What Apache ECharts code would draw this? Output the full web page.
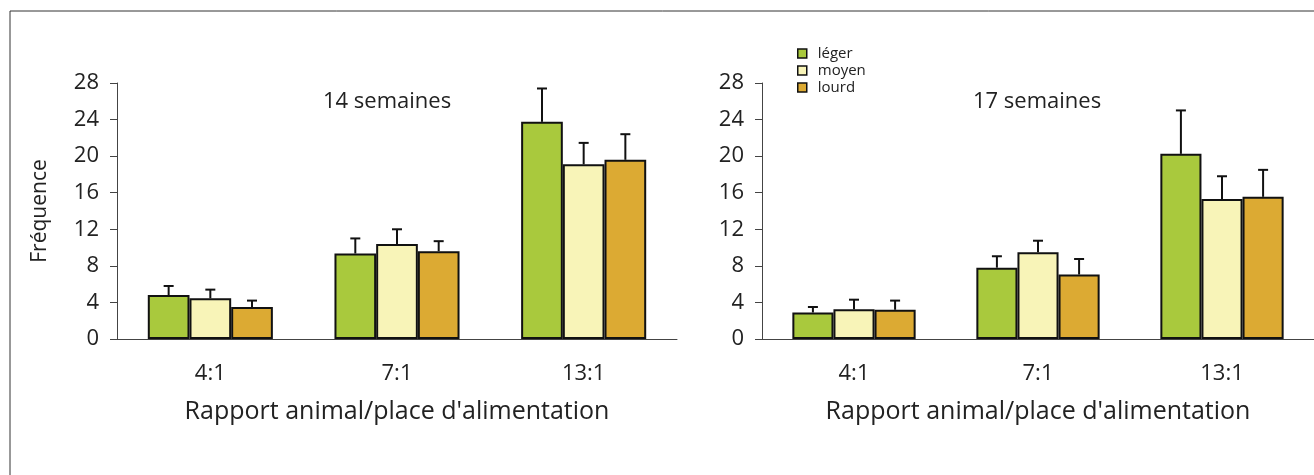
<!DOCTYPE html>
<html><head><meta charset="utf-8">
<script src="https://cdn.jsdelivr.net/npm/echarts@6/dist/echarts.min.js"></script>
<style>html,body{margin:0;padding:0;background:#fff}#c{width:1314px;height:475px}</style>
</head><body><div id="c"></div>
<script>
const categories = ['4:1', '7:1', '13:1'];
const seriesNames = ['léger', 'moyen', 'lourd'];
const panelTitles = ['14 semaines', '17 semaines'];
const yTicks = [0, 4, 8, 12, 16, 20, 24, 28];
// 14 weeks: means and top of error bars
const w14_leger = [4.8, 9.35, 23.75];
const w14_moyen = [4.45, 10.4, 19.1];
const w14_lourd = [3.5, 9.6, 19.6];
const w14_leger_top = [5.8, 11.0, 27.4];
const w14_moyen_top = [5.4, 12.0, 21.45];
const w14_lourd_top = [4.2, 10.7, 22.4];
// 17 weeks
const w17_leger = [2.9, 7.8, 20.25];
const w17_moyen = [3.25, 9.5, 15.3];
const w17_lourd = [3.2, 7.05, 15.55];
const w17_leger_top = [3.5, 9.05, 25.0];
const w17_moyen_top = [4.3, 10.75, 17.8];
const w17_lourd_top = [4.2, 8.75, 18.5];

const colors = ['#a9c93d', '#f8f4b8', '#dcaa33'];
const FONT = 'Open Sans';
const GAP = 0.33;

const panels = [
  {means: [w14_leger, w14_moyen, w14_lourd], tops: [w14_leger_top, w14_moyen_top, w14_lourd_top]},
  {means: [w17_leger, w17_moyen, w17_lourd], tops: [w17_leger_top, w17_moyen_top, w17_lourd_top]}
];
const gridLefts = [117, 762];

const grid = [], xAxis = [], yAxis = [], series = [], title = [];
panels.forEach((p, gi) => {
  grid.push({left: gridLefts[gi], top: 83, width: 560, height: 256});
  xAxis.push({
    type: 'category', gridIndex: gi, data: categories,
    axisLine: {lineStyle: {color: '#444', width: 1}},
    axisTick: {length: 7, lineStyle: {color: '#444'}},
    axisLabel: {fontFamily: FONT, fontSize: 22, color: '#222', margin: 24},
    name: 'Rapport animal/place d\'alimentation', nameLocation: 'middle', nameGap: 60,
    nameTextStyle: {fontFamily: FONT, fontSize: 25, color: '#222'}
  });
  yAxis.push({
    type: 'value', gridIndex: gi, min: yTicks[0], max: yTicks[yTicks.length - 1], interval: 4,
    splitLine: {show: false},
    axisLine: {show: true, lineStyle: {color: '#444', width: 1}},
    axisTick: {show: true, length: 7, lineStyle: {color: '#444'}},
    axisLabel: {fontFamily: FONT, fontSize: 22, color: '#222', margin: 18},
    name: gi === 0 ? 'Fréquence' : '', nameLocation: 'middle', nameRotate: 90, nameGap: 66,
    nameTextStyle: {fontFamily: FONT, fontSize: 21, color: '#222'}
  });
  title.push({
    text: panelTitles[gi], left: gi === 0 ? 318 : 968, top: 86,
    textStyle: {fontFamily: FONT, fontSize: 22, fontWeight: 'normal', color: '#222'}
  });
  p.means.forEach((vals, si) => {
    series.push({
      type: 'bar', name: seriesNames[si], xAxisIndex: gi, yAxisIndex: gi, data: vals,
      barGap: '0%', barCategoryGap: (GAP * 100) + '%',
      itemStyle: {color: colors[si], borderColor: '#111', borderWidth: 2},
      z: 2, animation: false
    });
  });
  p.tops.forEach((tops, si) => {
    const means = p.means[si];
    series.push({
      type: 'custom', xAxisIndex: gi, yAxisIndex: gi, z: 1, animation: false,
      data: categories.map((c, ci) => [ci, means[ci], tops[ci]]),
      renderItem: function (params, api) {
        const band = api.size([1, 0])[0];
        const bw = band * (1 - GAP) / 3;
        const base = api.coord([api.value(0), api.value(1)]);
        const top = api.coord([api.value(0), api.value(2)]);
        const x = base[0] + (si - 1) * bw;
        return {
          type: 'group', children: [
            {type: 'line', shape: {x1: x, y1: base[1], x2: x, y2: top[1]}, style: {stroke: '#111', lineWidth: 2}},
            {type: 'line', shape: {x1: x - 5, y1: top[1], x2: x + 5, y2: top[1]}, style: {stroke: '#111', lineWidth: 2}}
          ]
        };
      }
    });
  });
});

const chart = echarts.init(document.getElementById('c'), null, {renderer: 'canvas'});
chart.setOption({
  animation: false,
  title: title,
  grid: grid, xAxis: xAxis, yAxis: yAxis, series: series,
  legend: {
    data: seriesNames, orient: 'vertical', left: 792, top: 41,
    itemWidth: 9, itemHeight: 9, itemGap: 2,
    icon: 'rect',
    itemStyle: {borderColor: '#111', borderWidth: 1.5},
    textStyle: {fontFamily: FONT, fontSize: 15, color: '#222', padding: [0, 0, 0, 6]}
  },
  graphic: [{
    type: 'rect', silent: true, shape: {x: 10, y: 11, width: 1400, height: 1000},
    style: {fill: 'none', stroke: '#333', lineWidth: 1}
  }]
});
</script></body></html>
